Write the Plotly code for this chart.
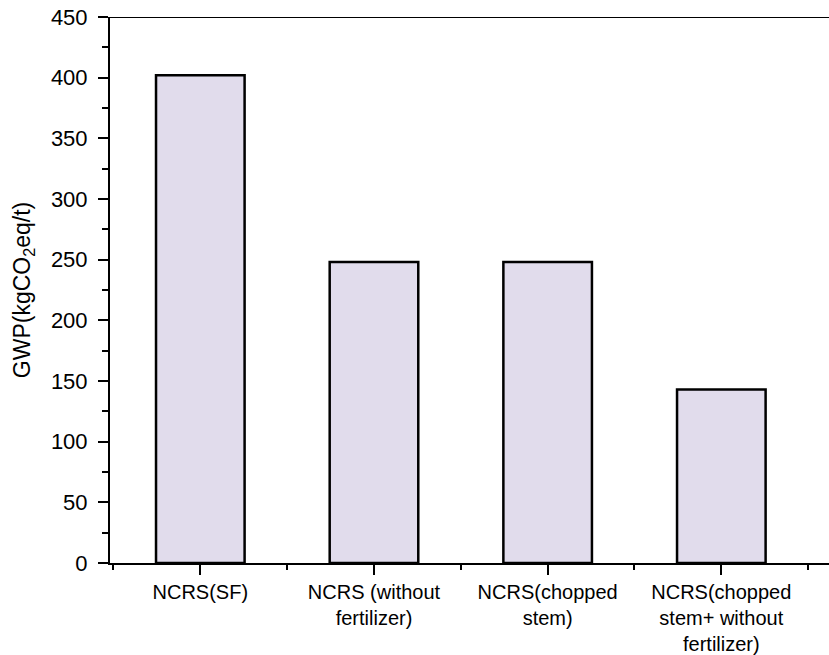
import plotly.graph_objects as go

categories = ["NCRS(SF)", "NCRS (without<br>fertilizer)", "NCRS(chopped<br>stem)",
              "NCRS(chopped<br>stem+ without<br>fertilizer)"]
gwp_values = [402, 248, 248, 143]
x_positions = [0, 1, 2, 3]
y_ticks = [0, 50, 100, 150, 200, 250, 300, 350, 400, 450]

font_family = "Liberation Sans, Arial, sans-serif"

fig = go.Figure()
fig.add_trace(go.Bar(
    x=x_positions, y=gwp_values, width=0.51,
    marker=dict(color="#E1DCEC", line=dict(color="black", width=2.5)),
))

fig.update_layout(
    width=829, height=655,
    margin=dict(l=110, r=0, t=17, b=90),
    plot_bgcolor="white", paper_bgcolor="white",
    showlegend=False,
    font=dict(family=font_family, color="black", size=20),
    xaxis=dict(
        range=[-0.52, 3.62], tickmode="array", tickvals=x_positions, ticktext=categories,
        ticks="outside", ticklen=10, tickwidth=2, tickcolor="black",
        showline=True, linecolor="black", linewidth=2, showgrid=False, zeroline=False,
        minor=dict(tickmode="linear", tick0=-0.5, dtick=1, ticks="outside", ticklen=5,
                   tickwidth=2, tickcolor="black", showgrid=False),
        tickfont=dict(size=20),
    ),
    yaxis=dict(
        range=[0, 450], tickmode="array", tickvals=y_ticks,
        ticks="outside", ticklen=10, tickwidth=2, tickcolor="black",
        showline=True, linecolor="black", linewidth=2, showgrid=False, zeroline=False,
        minor=dict(tickmode="linear", tick0=0, dtick=25, ticks="outside", ticklen=6,
                   tickwidth=2, tickcolor="black", showgrid=False),
        tickfont=dict(size=22),
        ticklabelstandoff=6,
        title=dict(text="GWP(kgCO<sub>2</sub>eq/t)", font=dict(size=23), standoff=14),
    ),
    shapes=[dict(type="line", xref="paper", yref="y", x0=0, x1=1, y0=450, y1=450,
                 line=dict(color="black", width=2))],
)

fig.write_html("out.html")
